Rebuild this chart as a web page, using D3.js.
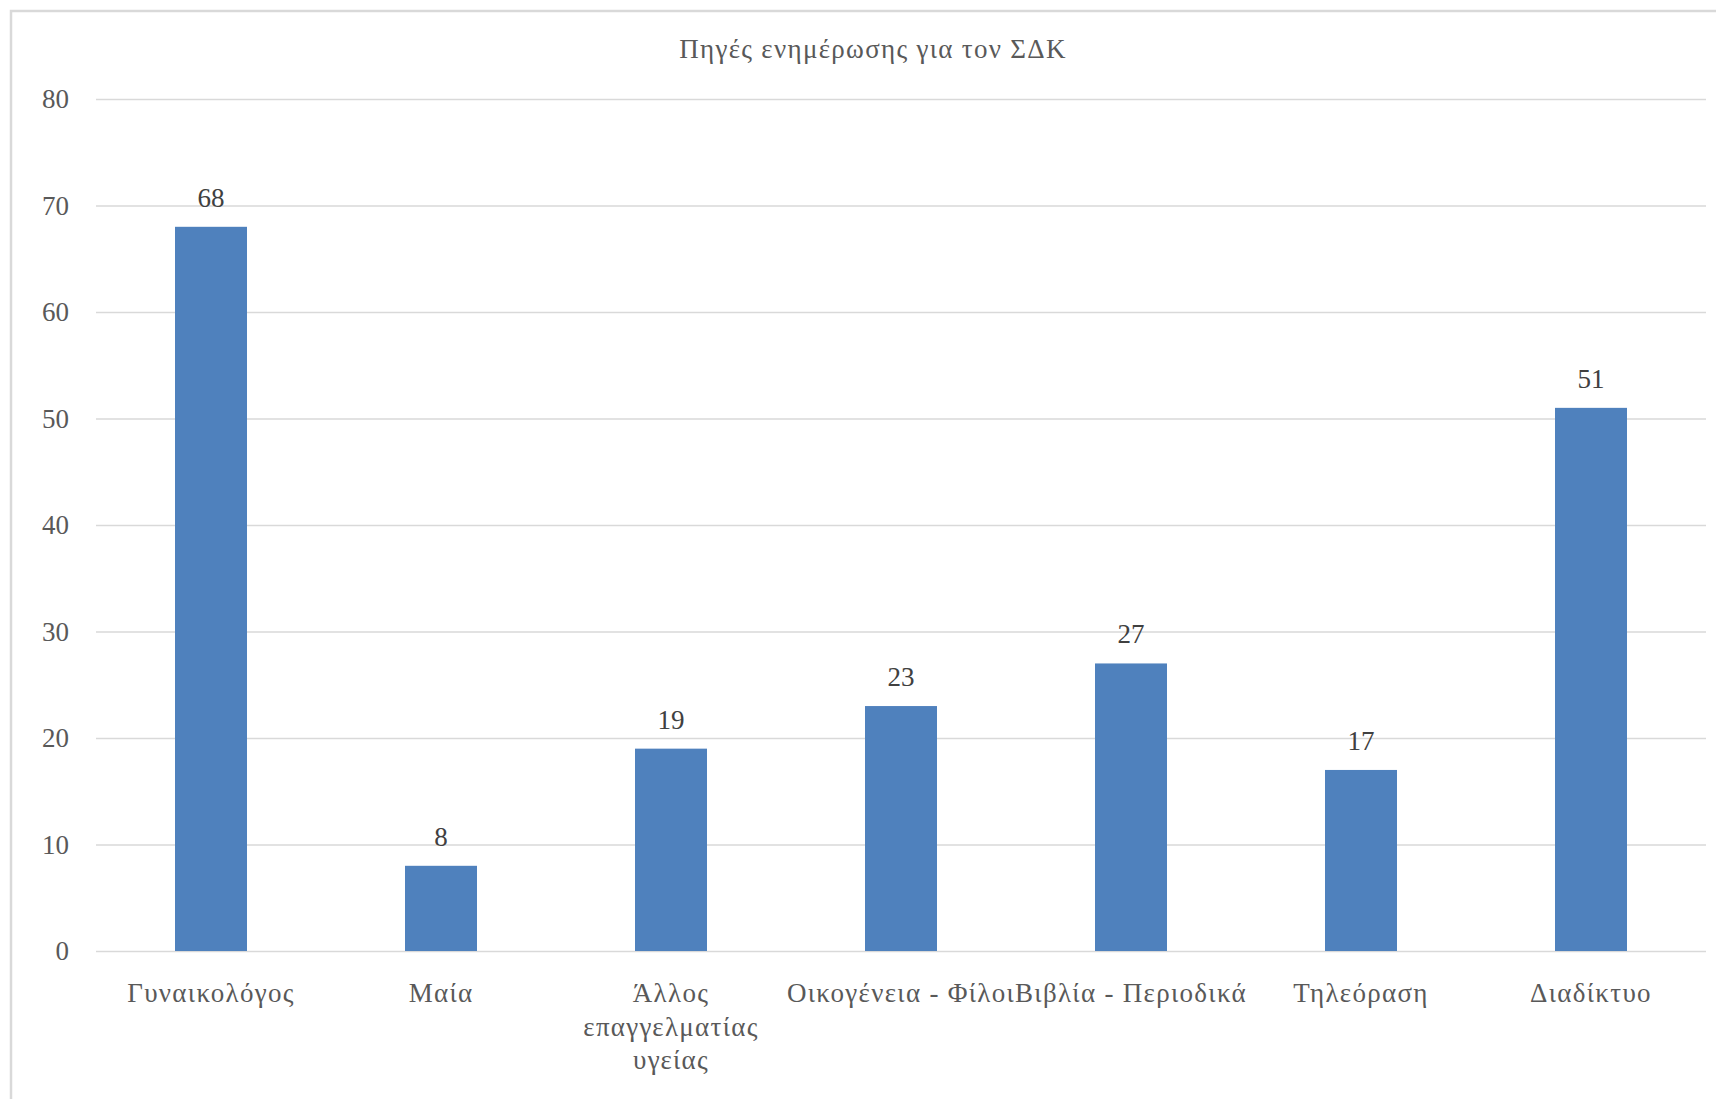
<!DOCTYPE html>
<html lang="el">
<head>
<meta charset="utf-8">
<title>Πηγές ενημέρωσης για τον ΣΔΚ</title>
<script src="https://cdn.jsdelivr.net/npm/d3@7/dist/d3.min.js"></script>
<style>
  html, body { margin: 0; padding: 0; background: #ffffff; }
  svg { display: block; }
  text { font-family: "Liberation Serif", "Times New Roman", serif; }
</style>
</head>
<body>
<svg id="chart" width="1716" height="1099"></svg>
<script>
// Data
const chartTitle = "Πηγές ενημέρωσης για τον ΣΔΚ";
const categories = [
  "Γυναικολόγος",
  "Μαία",
  "Άλλος επαγγελματίας υγείας",
  "Οικογένεια - Φίλοι",
  "Βιβλία - Περιοδικά",
  "Τηλεόραση",
  "Διαδίκτυο"
];
const counts = [68, 8, 19, 23, 27, 17, 51];
const yTicks = [0, 10, 20, 30, 40, 50, 60, 70, 80];

// Layout
const W = 1716, H = 1099;
const plot = { left: 96, right: 1706, top: 99, bottom: 951 };
const fontSize = 27;
const greekSpacing = "1.3px";
const gridColor = "#d9d9d9";
const axisText = "#595959";
const barColor = "#4f81bd";

const svg = d3.select("#chart");

// Chart-area frame
svg.append("rect")
  .attr("x", 11).attr("y", 11)
  .attr("width", W + 20).attr("height", H + 20)
  .attr("fill", "#ffffff")
  .attr("stroke", gridColor)
  .attr("stroke-width", 2.5);

// Scales
const x = d3.scaleBand()
  .domain(categories)
  .range([plot.left, plot.right])
  .paddingInner(0.687)
  .paddingOuter(0.687 / 2);

const y = d3.scaleLinear()
  .domain([0, 80])
  .range([plot.bottom, plot.top]);

// Title
svg.append("text")
  .attr("x", 873).attr("y", 58)
  .attr("text-anchor", "middle")
  .attr("fill", axisText)
  .attr("font-size", fontSize)
  .attr("letter-spacing", greekSpacing)
  .text(chartTitle);

// Y axis with gridlines
const yAxis = d3.axisLeft(y)
  .tickValues(yTicks)
  .tickFormat(d3.format("d"))
  .tickSizeInner(-(plot.right - plot.left))
  .tickSizeOuter(0)
  .tickPadding(27);

const gy = svg.append("g")
  .attr("transform", `translate(${plot.left},0)`)
  .call(yAxis);
gy.select(".domain").remove();
gy.selectAll(".tick line")
  .attr("stroke", gridColor)
  .attr("stroke-width", 1.5);
gy.selectAll(".tick text")
  .attr("fill", axisText)
  .attr("font-size", fontSize)
  .attr("font-family", "'Liberation Serif', 'Times New Roman', serif");

// Bars
svg.append("g")
  .selectAll("rect")
  .data(categories)
  .join("rect")
  .attr("x", d => x(d))
  .attr("y", (d, i) => y(counts[i]))
  .attr("width", x.bandwidth())
  .attr("height", (d, i) => y(0) - y(counts[i]))
  .attr("fill", barColor);

// Value labels
svg.append("g")
  .selectAll("text")
  .data(categories)
  .join("text")
  .attr("x", d => x(d) + x.bandwidth() / 2)
  .attr("y", (d, i) => y(counts[i]) - 20)
  .attr("text-anchor", "middle")
  .attr("fill", "#404040")
  .attr("font-size", fontSize)
  .text((d, i) => counts[i]);

// Category labels, wrapped to the category step width
const xAxis = d3.axisBottom(x).tickSize(0).tickPadding(0);
const gx = svg.append("g")
  .attr("transform", `translate(0,${plot.bottom})`)
  .call(xAxis);
gx.select(".domain").remove();

const lineHeight = 33.5;
const maxWidth = x.step();
gx.selectAll(".tick text")
  .attr("fill", axisText)
  .attr("font-size", fontSize)
  .attr("font-family", "'Liberation Serif', 'Times New Roman', serif")
  .attr("letter-spacing", greekSpacing)
  .attr("dy", null)
  .attr("y", 0)
  .each(function (d) {
    const t = d3.select(this);
    const words = d.split(/\s+/);
    t.text(null);
    let lines = [];
    let line = [];
    const probe = t.append("tspan");
    words.forEach(w => {
      line.push(w);
      probe.text(line.join(" "));
      if (probe.node().getComputedTextLength() > maxWidth && line.length > 1) {
        line.pop();
        lines.push(line.join(" "));
        line = [w];
      }
    });
    lines.push(line.join(" "));
    probe.remove();
    // the hyphenated pairs stay on one line
    if (d.includes(" - ")) lines = [d];
    lines.forEach((l, k) => {
      t.append("tspan")
        .attr("x", 0)
        .attr("y", 51 + k * lineHeight)
        .text(l);
    });
  });
</script>
</body>
</html>
